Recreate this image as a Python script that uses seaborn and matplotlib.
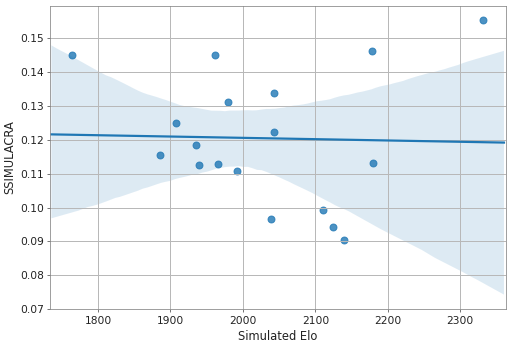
import numpy as np
import pandas as pd
import matplotlib
matplotlib.use("Agg")
import matplotlib.pyplot as plt
import seaborn as sns

# Values
elo = [1764, 1962, 1980, 1907, 1935, 1886, 1939, 1965, 1992,
       2043, 2043, 2039, 2111, 2124, 2140, 2178, 2180, 2332]
ssimulacra = [0.1451, 0.1451, 0.1312, 0.1251, 0.1186, 0.1156, 0.1127, 0.1130, 0.1109,
              0.1338, 0.1224, 0.0967, 0.0994, 0.0941, 0.0903, 0.1462, 0.1133, 0.1553]

df = pd.DataFrame({"Simulated Elo": elo, "SSIMULACRA": ssimulacra})

fig, ax = plt.subplots(figsize=(512 / 72, 348 / 72), dpi=72)
fig.subplots_adjust(left=0.098, right=0.988, top=0.983, bottom=0.112)

sns.regplot(data=df, x="Simulated Elo", y="SSIMULACRA", ax=ax,
            truncate=False, seed=3, scatter_kws={"s": 48},
            line_kws={"linewidth": 2.2})

ax.set_ylim(0.07, 0.1596)
ax.set_xlim(1734, 2363)
ax.set_xticks([1800, 1900, 2000, 2100, 2200, 2300])
ax.grid(True, color="#b8b8b8", linewidth=1)
for s in ax.spines.values():
    s.set_color("#888888")
ax.tick_params(length=3, color="#555555", labelsize=10.6, labelcolor="#222222")
ax.xaxis.label.set_size(11.5)
ax.yaxis.label.set_size(11.5)
ax.xaxis.label.set_color("#222222")
ax.yaxis.label.set_color("#222222")

fig.savefig("out.png", dpi=72)
